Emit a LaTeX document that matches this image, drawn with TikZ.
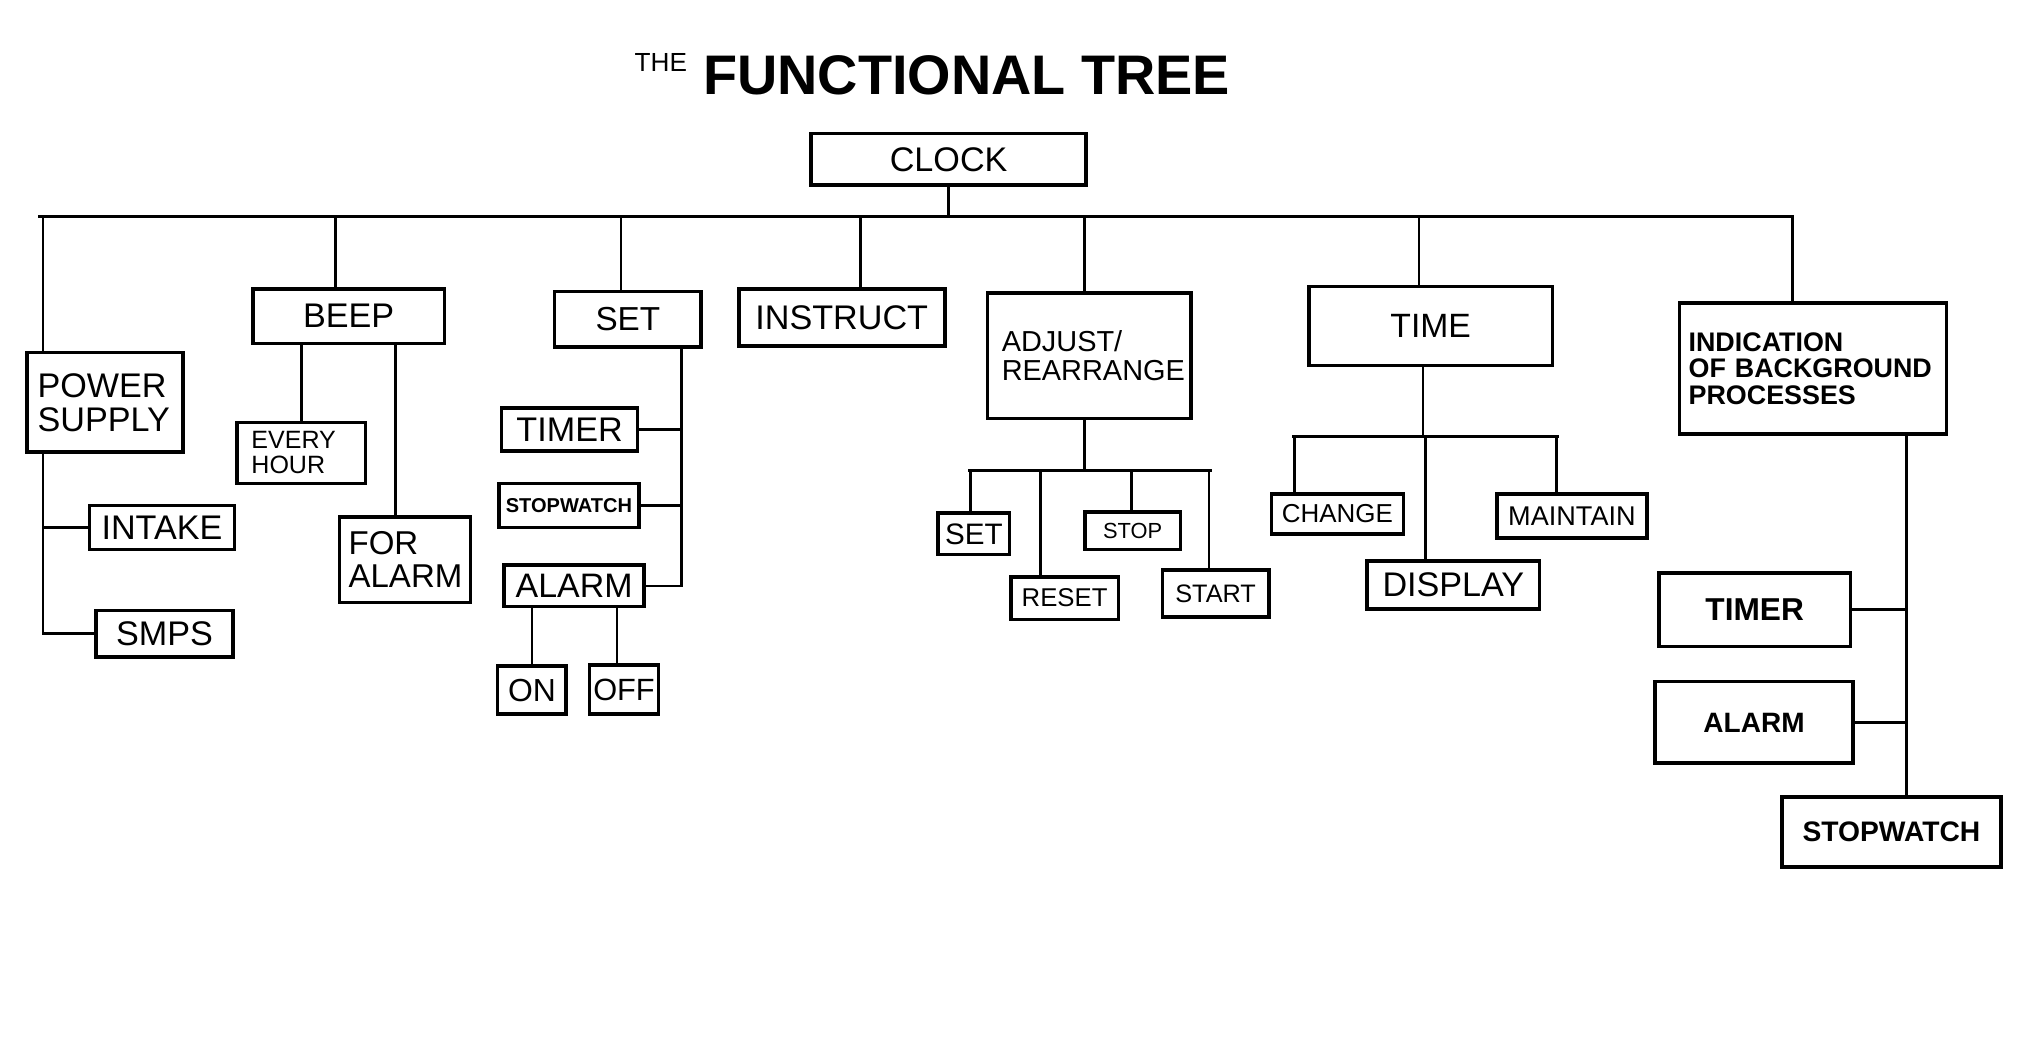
\documentclass[tikz,border=0pt]{standalone}
\usepackage{fontspec}
\setmainfont{Liberation Sans}
\newcommand{\fsz}[1]{\fontsize{#1pt}{#1pt}\selectfont}

\begin{document}
\begin{tikzpicture}[x=0.02cm, y=-0.02cm, line width=1.1pt, line cap=rect,
box/.style={draw, line width=1.6pt, inner sep=0pt, align=center},
lbox/.style={box, align=left},
bus/.style={line width=1.5pt}]
  \useasboundingbox (0,0) rectangle (1568,801);
  % title
  \node[anchor=base, font=\fsz{11.5}] (the) at (510,55) {THE};
  \node[anchor=base, font=\bfseries\fsz{24.5}] (title) at (746,73) {FUNCTIONAL TREE};
  % root and first level
  \node[box, minimum width=4.24cm, minimum height=0.8cm, font=\fsz{15}] (clock) at (732,123) {CLOCK};
  \node[lbox, text width=2.08cm, inner xsep=0.16cm, minimum height=1.54cm, font=\fsz{15}] (power) at (81,310.5) {POWER\\SUPPLY};
  \node[box, minimum width=2.96cm, minimum height=0.84cm, font=\fsz{15}] (beep) at (269,244) {BEEP};
  \node[box, minimum width=2.26cm, minimum height=0.86cm, font=\fsz{14.6}] (set) at (484.5,246.5) {SET};
  \node[box, minimum width=3.18cm, minimum height=0.88cm, font=\fsz{15}] (instruct) at (649.5,245) {INSTRUCT};
  \node[lbox, text width=2.70cm, inner xsep=0.22cm, minimum height=1.94cm, font=\fsz{12.7}] (adjust) at (840.5,274.5) {ADJUST/\\REARRANGE};
  \node[box, minimum width=3.76cm, minimum height=1.22cm, font=\fsz{14.8}] (time) at (1104,251.5) {TIME};
  \node[lbox, text width=3.84cm, inner xsep=0.14cm, minimum height=2.02cm, font=\bfseries\fsz{11.8}] (bgproc) at (1399,284.5) {INDICATION\\OF BACKGROUND\\PROCESSES};
  % power supply
  \node[box, minimum width=2.24cm, minimum height=0.68cm, font=\fsz{15}] (intake) at (125,407) {INTAKE};
  \node[box, minimum width=2.12cm, minimum height=0.72cm, font=\fsz{15}] (smps) at (127,489) {SMPS};
  % beep
  \node[lbox, text width=1.54cm, inner xsep=0.22cm, minimum height=0.94cm, font=\fsz{11}] (every) at (232.5,349.5) {EVERY\\HOUR};
  \node[lbox, text width=1.74cm, inner xsep=0.14cm, minimum height=1.32cm, font=\fsz{14.5}] (foralarm) at (312.5,432) {FOR\\ALARM};
  % set
  \node[box, minimum width=2.10cm, minimum height=0.66cm, font=\fsz{15}] (tmS) at (439.5,331.5) {TIMER};
  \node[box, minimum width=2.16cm, minimum height=0.68cm, font=\bfseries\fsz{8.8}] (swS) at (439,390) {STOPWATCH};
  \node[box, minimum width=2.16cm, minimum height=0.64cm, font=\fsz{14.9}] (alS) at (443,452) {ALARM};
  \node[box, minimum width=1.06cm, minimum height=0.74cm, font=\fsz{14}] (on) at (410.5,532.5) {ON};
  \node[box, minimum width=1.06cm, minimum height=0.76cm, font=\fsz{13.5}] (off) at (481.5,532) {OFF};
  % adjust
  \node[box, minimum width=1.10cm, minimum height=0.64cm, font=\fsz{13}] (aset) at (751.5,412) {SET};
  \node[box, minimum width=1.66cm, minimum height=0.66cm, font=\fsz{11.3}] (reset) at (821.5,461.5) {RESET};
  \node[box, minimum width=1.48cm, minimum height=0.58cm, font=\fsz{9.6}] (stop) at (874,409.5) {STOP};
  \node[box, minimum width=1.64cm, minimum height=0.72cm, font=\fsz{11.1}] (start) at (938,458) {START};
  % time
  \node[box, minimum width=2.04cm, minimum height=0.62cm, font=\fsz{11.4}] (change) at (1032,396.5) {CHANGE};
  \node[box, minimum width=2.66cm, minimum height=0.74cm, font=\fsz{15}] (display) at (1121.5,451.5) {DISPLAY};
  \node[box, minimum width=2.32cm, minimum height=0.68cm, font=\fsz{11.9}] (maintain) at (1213,398) {MAINTAIN};
  % background processes
  \node[box, minimum width=2.96cm, minimum height=1.14cm, font=\bfseries\fsz{13.9}] (tmB) at (1354,470.5) {TIMER};
  \node[box, minimum width=3.06cm, minimum height=1.26cm, font=\bfseries\fsz{12.3}] (alB) at (1353.5,557.5) {ALARM};
  \node[box, minimum width=3.38cm, minimum height=1.08cm, font=\bfseries\fsz{12.4}] (swB) at (1459.5,642) {STOPWATCH};

  % buses
  \coordinate (bus) at (31,167);
  \coordinate (busR) at (1383,167);
  \coordinate (abus) at (748,363);
  \coordinate (abusR) at (934,363);
  \coordinate (tbus) at (998,337);
  \coordinate (tbusR) at (1202,337);
  \draw[bus] (bus) -- (busR);
  \draw[bus] (abus) -- (abusR);
  \draw[bus] (tbus) -- (tbusR);

  % connectors
  \draw (clock.south) -- (clock.south |- bus);
  \foreach \x/\n in {33/power,259/beep,479/set,664/instruct,837/adjust,1095/time,1383/bgproc}
    \draw (\x,0 |- bus) -- (\x,0 |- \n.north);
  \draw (33,0 |- power.south) -- (33,0 |- smps.west);
  \foreach \n in {intake,smps}
    \draw (\n.west) -- (\n.west -| 33,0);
  \draw (every.north) -- (every.north |- beep.south);
  \draw (305,0 |- beep.south) -- (305,0 |- foralarm.north);
  \draw (526,0 |- set.south) -- (526,0 |- alS.east);
  \foreach \n in {tmS,swS,alS}
    \draw (\n.east) -- (\n.east -| 526,0);
  \draw (on.north) -- (on.north |- alS.south);
  \draw (476,0 |- alS.south) -- (476,0 |- off.north);
  \draw (837,0 |- adjust.south) -- (837,0 |- abus);
  \foreach \x/\n in {749/aset,803/reset,873/stop,933/start}
    \draw (\x,0 |- abus) -- (\x,0 |- \n.north);
  \draw (1098,0 |- time.south) -- (1098,0 |- tbus);
  \foreach \x/\n in {999/change,1100/display,1201/maintain}
    \draw (\x,0 |- tbus) -- (\x,0 |- \n.north);
  \draw (1471,0 |- bgproc.south) -- (1471,0 |- swB.north);
  \foreach \n in {tmB,alB}
    \draw (\n.east) -- (\n.east -| 1471,0);
\end{tikzpicture}
\end{document}
